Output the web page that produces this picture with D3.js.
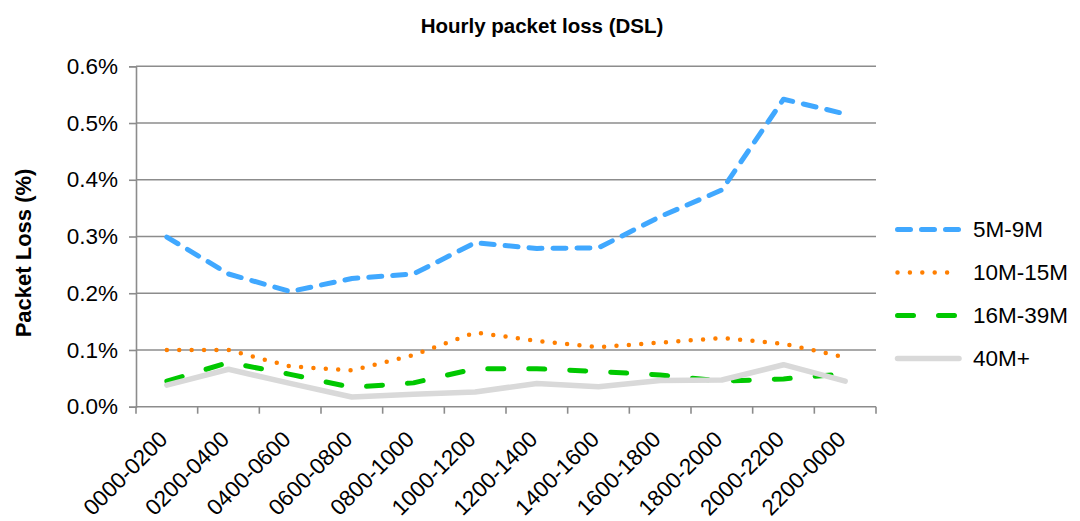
<!DOCTYPE html>
<html>
<head>
<meta charset="utf-8">
<script src="https://cdn.jsdelivr.net/npm/d3@7"></script>
<style>
  body { margin: 0; background: #fff; }
  text { font-family: "Liberation Sans", Arial, sans-serif; fill: #000; }
</style>
</head>
<body>
<svg width="1080" height="521"></svg>
<script>
// data
const hours = ["0000-0200", "0200-0400", "0400-0600", "0600-0800", "0800-1000", "1000-1200",
  "1200-1400", "1400-1600", "1600-1800", "1800-2000", "2000-2200", "2200-0000"];
const s5to9 = [0.299, 0.234, 0.203, 0.226, 0.234, 0.289, 0.279, 0.280, 0.335, 0.382, 0.542, 0.516];
const s10to15 = [0.100, 0.100, 0.071, 0.064, 0.091, 0.131, 0.116, 0.105, 0.113, 0.121, 0.111, 0.087];
const s16to39 = [0.045, 0.078, 0.057, 0.034, 0.042, 0.067, 0.067, 0.062, 0.056, 0.045, 0.049, 0.058];
const s40plus = [0.038, 0.066, 0.041, 0.017, 0.022, 0.026, 0.041, 0.035, 0.046, 0.047, 0.074, 0.045];
const yTicks = [0, 0.1, 0.2, 0.3, 0.4, 0.5, 0.6];

const series = [
  { name: "5M-9M", values: s5to9, color: "#40a8ff", width: 5, dash: "13,11" },
  { name: "10M-15M", values: s10to15, color: "#ff7f00", width: 4.5, dash: "0,12.4" },
  { name: "16M-39M", values: s16to39, color: "#00c800", width: 5, dash: "16,25" },
  { name: "40M+", values: s40plus, color: "#d9d9d9", width: 5.5, dash: null }
];

const svg = d3.select("svg");
const plotLeft = 136, plotRight = 876, plotTop = 66.3, plotBottom = 406.7;
const labelSize = "22.5px";

const x = d3.scaleBand().domain(hours).range([plotLeft, plotRight]).padding(0);
const y = d3.scaleLinear().domain([0, 0.6]).range([plotBottom, plotTop]);
const cx = d => x(d) + x.bandwidth() / 2;

// title
svg.append("text")
  .attr("x", 542).attr("y", 33)
  .attr("text-anchor", "middle")
  .style("font-size", "20.5px").style("font-weight", "bold")
  .text("Hourly packet loss (DSL)");

// gridlines
svg.append("g").selectAll("line")
  .data(yTicks)
  .enter().append("line")
  .attr("x1", plotLeft).attr("x2", plotRight)
  .attr("y1", d => y(d)).attr("y2", d => y(d))
  .attr("stroke", "#8c8c8c").attr("stroke-width", 1.6);

// y axis
const yAxis = svg.append("g")
  .attr("transform", `translate(${plotLeft},0)`)
  .call(d3.axisLeft(y).tickValues(yTicks).tickFormat(d => d.toFixed(1) + "%").tickSize(7).tickPadding(11));
yAxis.select(".domain").attr("stroke", "#8c8c8c").attr("stroke-width", 1.6);
yAxis.selectAll(".tick line").attr("stroke", "#8c8c8c").attr("stroke-width", 1.6);
yAxis.selectAll("text").style("font-size", labelSize).style("font-family", "Liberation Sans, Arial, sans-serif").attr("fill", "#000");

// x axis ticks at category boundaries
const bounds = hours.map(d => x(d)).concat([plotRight]);
svg.append("g").selectAll("line")
  .data(bounds)
  .enter().append("line")
  .attr("x1", d => d).attr("x2", d => d)
  .attr("y1", plotBottom).attr("y2", plotBottom + 7)
  .attr("stroke", "#8c8c8c").attr("stroke-width", 1.6);

svg.append("g").selectAll("text")
  .data(hours)
  .enter().append("text")
  .attr("transform", d => `translate(${cx(d) + 2},${plotBottom + 34}) rotate(-45)`)
  .attr("text-anchor", "end")
  .style("font-size", labelSize)
  .text(d => d);

// y axis title
svg.append("text")
  .attr("transform", "translate(31,253) rotate(-90)")
  .attr("text-anchor", "middle")
  .style("font-size", "22px").style("font-weight", "bold")
  .text("Packet Loss (%)");

// lines
const line = d3.line()
  .x((d, i) => cx(hours[i]))
  .y(d => y(d));

svg.append("g").selectAll("path")
  .data(series)
  .enter().append("path")
  .attr("d", d => line(d.values))
  .attr("fill", "none")
  .attr("stroke", d => d.color)
  .attr("stroke-width", d => d.width)
  .attr("stroke-linecap", "round")
  .attr("stroke-linejoin", "round")
  .attr("stroke-dasharray", d => d.dash);

// legend
const legend = svg.append("g").selectAll("g")
  .data(series)
  .enter().append("g")
  .attr("transform", (d, i) => `translate(895,${229.5 + i * 43})`);

legend.append("line")
  .attr("x1", 2.5).attr("x2", 64)
  .attr("stroke", d => d.color)
  .attr("stroke-width", d => d.width)
  .attr("stroke-linecap", "round")
  .attr("stroke-dasharray", d => d.dash);

legend.append("text")
  .attr("x", 78).attr("dy", "0.35em")
  .style("font-size", labelSize)
  .text(d => d.name);
</script>
</body>
</html>
